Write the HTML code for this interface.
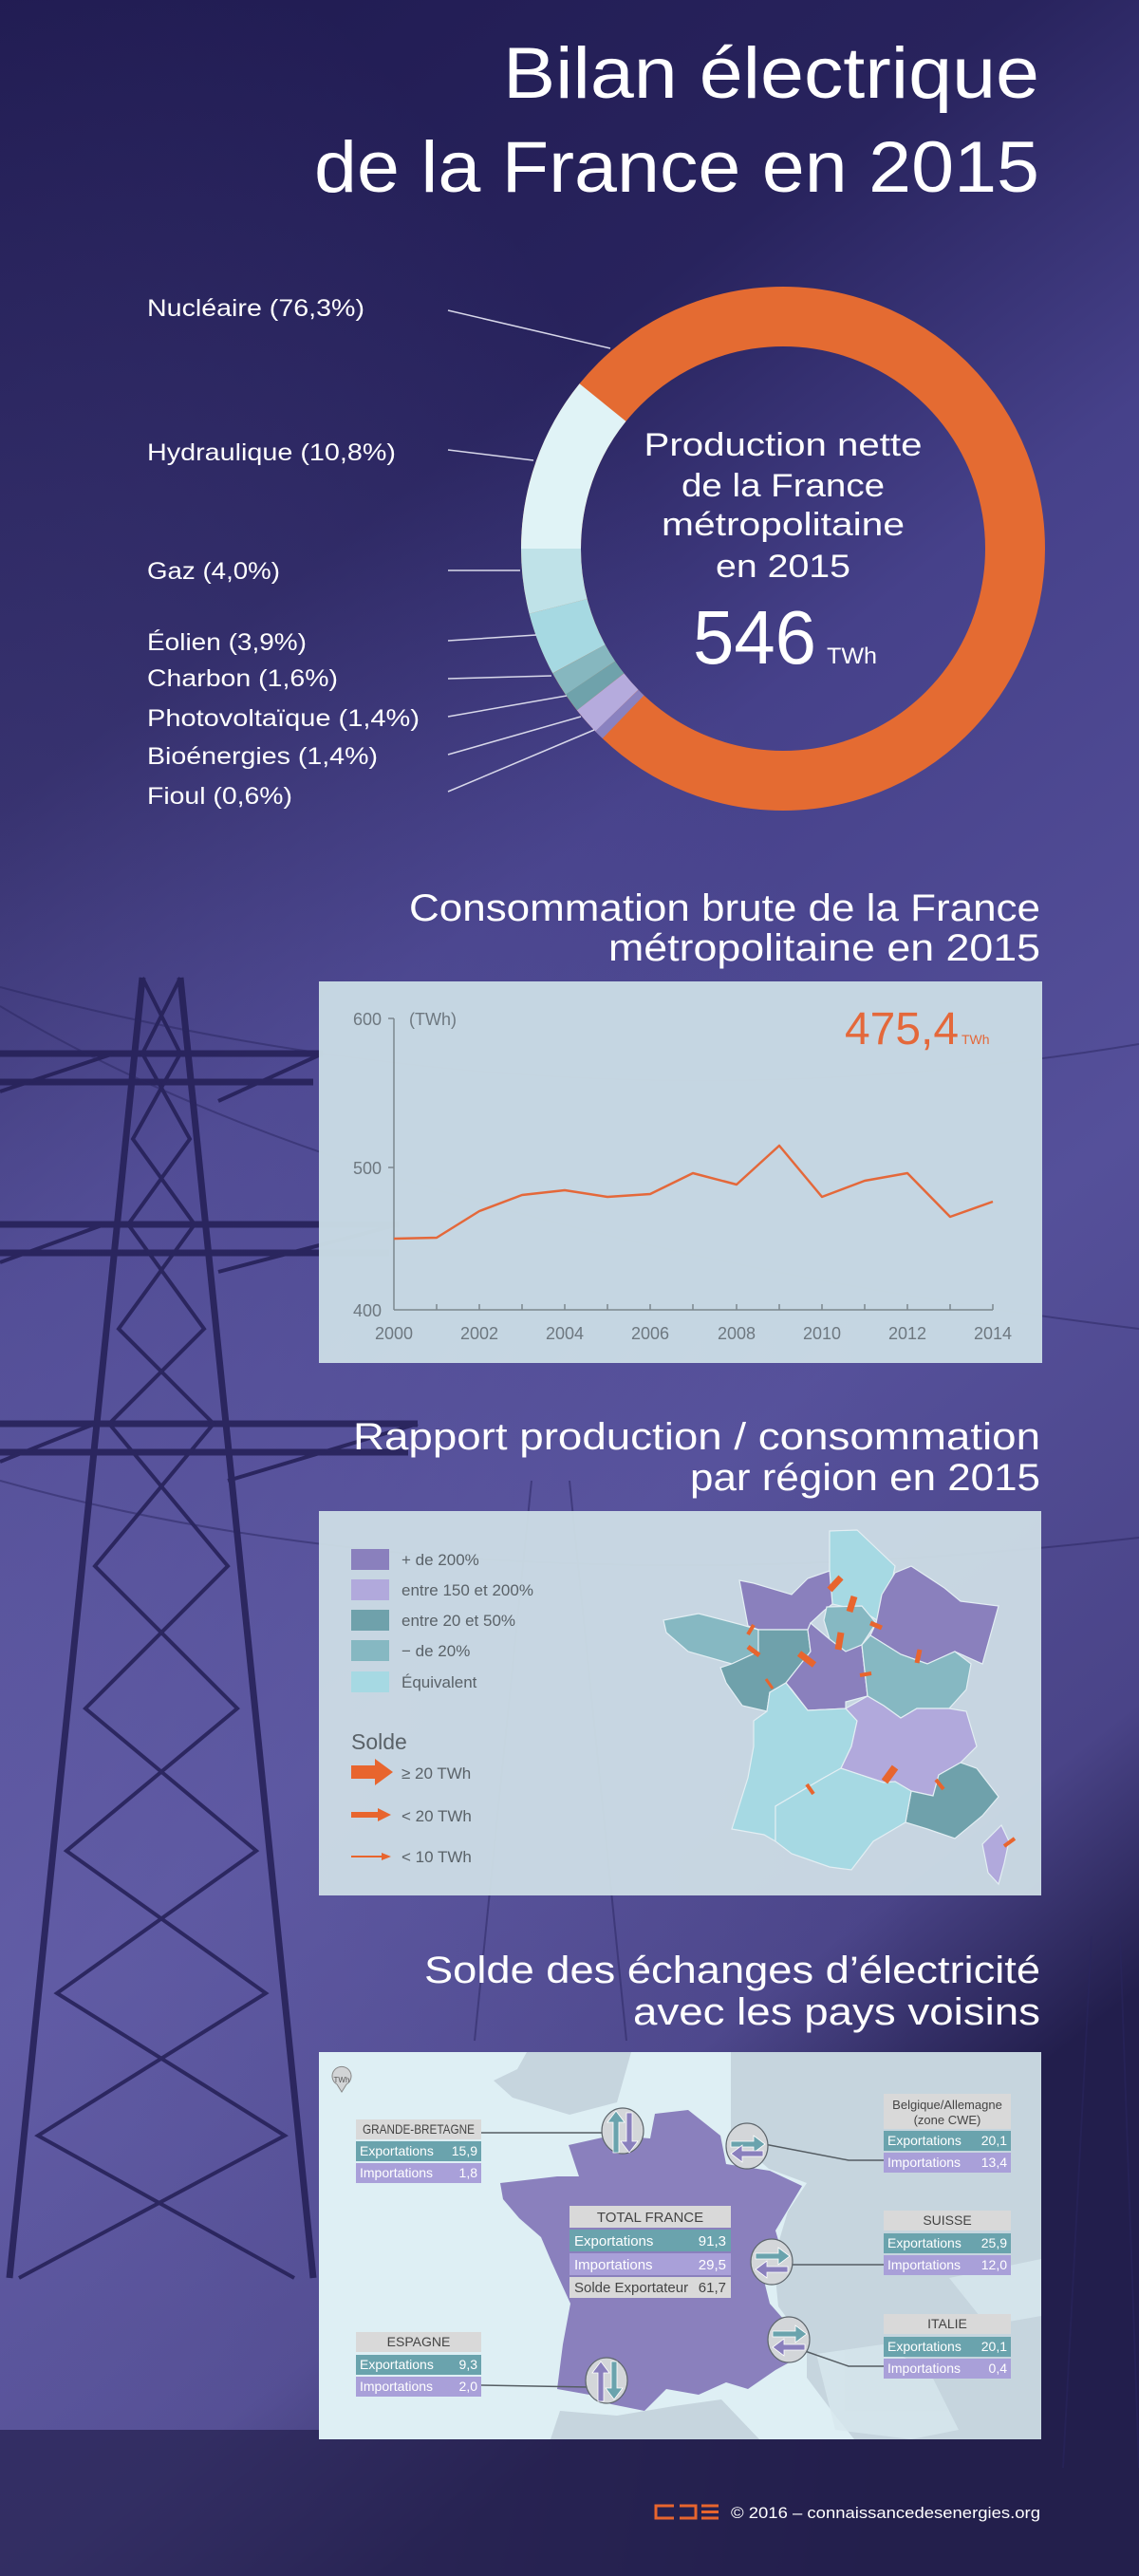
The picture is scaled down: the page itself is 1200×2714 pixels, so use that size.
<!DOCTYPE html>
<html><head><meta charset="utf-8"><style>
html,body{margin:0;padding:0;background:#231e56}
svg{display:block}
text{font-family:"Liberation Sans",sans-serif}
</style></head><body>
<svg width="1200" height="2714" viewBox="0 0 1200 2714" xmlns="http://www.w3.org/2000/svg">
<defs>
<linearGradient id="bg" x1="0" y1="0" x2="0.35" y2="1">
<stop offset="0" stop-color="#1f1a50"/>
<stop offset="0.28" stop-color="#28235d"/>
<stop offset="0.45" stop-color="#46418a"/>
<stop offset="0.7" stop-color="#55509a"/>
<stop offset="0.9" stop-color="#4a4488"/>
<stop offset="1" stop-color="#221e4c"/>
</linearGradient>
<radialGradient id="glow" cx="0" cy="0.75" r="0.8">
<stop offset="0" stop-color="#6d68b0" stop-opacity="0.5"/>
<stop offset="1" stop-color="#6d68b0" stop-opacity="0"/>
</radialGradient>
</defs>
<rect width="1200" height="2714" fill="url(#bg)"/>
<rect width="1200" height="2714" fill="url(#glow)"/>
<rect x="0" y="2560" width="1200" height="154" fill="#231f4d" opacity="0.7"/>

<g stroke="#241f55" stroke-width="7" fill="none" opacity="0.85">
<path d="M150 1030 L10 2400 M190 1030 L330 2400"/>
<path d="M0 1110 L340 1110 M0 1140 L330 1140 M0 1290 L420 1290 M0 1320 L410 1320 M0 1500 L440 1500 M0 1530 L430 1530"/>
<path d="M150 1030 L190 1110 L140 1200 L205 1290 L125 1400 L225 1500 L100 1650 L250 1800 L70 1950 L280 2100 L40 2250 L310 2400" stroke-width="4"/>
<path d="M190 1030 L150 1110 L200 1200 L135 1290 L215 1400 L115 1500 L240 1650 L90 1800 L270 1950 L60 2100 L300 2250 L20 2400" stroke-width="4"/>
<path d="M0 1150 L120 1110 M340 1110 L230 1160 M0 1330 L110 1290 M420 1290 L230 1340 M0 1540 L100 1500 M440 1500 L240 1560" stroke-width="4"/>
</g>
<g stroke="#2a2560" stroke-width="2" fill="none" opacity="0.5">
<path d="M0 1040 Q600 1200 1200 1100 M0 1560 Q500 1700 1200 1620 M0 1060 Q400 1300 1200 1400"/>
<path d="M560 1560 L500 2150 M600 1560 L660 2150 M1150 2040 L1120 2600 M1180 2040 L1200 2600"/>
</g>

<text x="1095" y="103" font-size="76" fill="#fff" text-anchor="end" textLength="565" lengthAdjust="spacingAndGlyphs">Bilan électrique</text>
<text x="1095" y="202" font-size="76" fill="#fff" text-anchor="end" textLength="764" lengthAdjust="spacingAndGlyphs">de la France en 2015</text>

<g transform="translate(825,578)">
<circle r="244.5" fill="none" stroke="#e46b32" stroke-width="63"/>
</g>
<g transform="translate(825,578)" stroke-width="63" fill="none">
<path stroke="#e0f3f6" d="M -190.0 -153.9 A 244.5 244.5 0 0 0 -244.5 0"/>
<path stroke="#bfe2e8" d="M -244.5 0 A 244.5 244.5 0 0 0 -236.9 60.8"/>
<path stroke="#a6d9e2" d="M -236.9 60.8 A 244.5 244.5 0 0 0 -215.1 116.3"/>
<path stroke="#86b7bf" d="M -215.1 116.3 A 244.5 244.5 0 0 0 -203.0 136.2"/>
<path stroke="#6fa2ab" d="M -203.0 136.2 A 244.5 244.5 0 0 0 -192.3 150.9"/>
<path stroke="#b5abdd" d="M -192.3 150.9 A 244.5 244.5 0 0 0 -175.1 170.6"/>
<path stroke="#8a82c0" d="M -175.1 170.6 A 244.5 244.5 0 0 0 -168.4 177.3"/>
</g>
<text x="825" y="480" font-size="34" fill="#fff" text-anchor="middle" textLength="293" lengthAdjust="spacingAndGlyphs">Production nette</text>
<text x="825" y="523" font-size="34" fill="#fff" text-anchor="middle" textLength="214" lengthAdjust="spacingAndGlyphs">de la France</text>
<text x="825" y="564" font-size="34" fill="#fff" text-anchor="middle" textLength="256" lengthAdjust="spacingAndGlyphs">métropolitaine</text>
<text x="825" y="608" font-size="34" fill="#fff" text-anchor="middle" textLength="142" lengthAdjust="spacingAndGlyphs">en 2015</text>
<text x="730" y="699" font-size="80" fill="#fff" textLength="130" lengthAdjust="spacingAndGlyphs">546</text>
<text x="871" y="699" font-size="24" fill="#fff" textLength="53" lengthAdjust="spacingAndGlyphs">TWh</text>

<g stroke="#d8d8ea" stroke-width="1.5">
<line x1="472" y1="327" x2="643" y2="367"/>
<line x1="472" y1="474" x2="562" y2="485"/>
<line x1="472" y1="601" x2="548" y2="601"/>
<line x1="472" y1="675" x2="565" y2="669"/>
<line x1="472" y1="715" x2="581" y2="712"/>
<line x1="472" y1="755" x2="597" y2="733"/>
<line x1="472" y1="795" x2="612" y2="755"/>
<line x1="472" y1="834" x2="626" y2="769"/>
</g>
<g font-size="25" fill="#fff">
<text x="155" y="333" textLength="229" lengthAdjust="spacingAndGlyphs">Nucléaire (76,3%)</text>
<text x="155" y="485" textLength="262" lengthAdjust="spacingAndGlyphs">Hydraulique (10,8%)</text>
<text x="155" y="610" textLength="140" lengthAdjust="spacingAndGlyphs">Gaz (4,0%)</text>
<text x="155" y="685" textLength="168" lengthAdjust="spacingAndGlyphs">Éolien (3,9%)</text>
<text x="155" y="723" textLength="201" lengthAdjust="spacingAndGlyphs">Charbon (1,6%)</text>
<text x="155" y="765" textLength="287" lengthAdjust="spacingAndGlyphs">Photovoltaïque (1,4%)</text>
<text x="155" y="805" textLength="243" lengthAdjust="spacingAndGlyphs">Bioénergies (1,4%)</text>
<text x="155" y="847" textLength="153" lengthAdjust="spacingAndGlyphs">Fioul (0,6%)</text>
</g>

<text x="1096" y="970" font-size="40" fill="#fff" text-anchor="end" textLength="665" lengthAdjust="spacingAndGlyphs">Consommation brute de la France</text>
<text x="1096" y="1012" font-size="40" fill="#fff" text-anchor="end" textLength="455" lengthAdjust="spacingAndGlyphs">métropolitaine en 2015</text>
<rect x="336" y="1034" width="762" height="402" fill="#c9dbe4" opacity="0.97"/>
<g stroke="#7c878e" stroke-width="1.5" fill="none">
<line x1="415" y1="1073" x2="415" y2="1380"/>
<line x1="415" y1="1380" x2="1046" y2="1380"/>
<line x1="409" y1="1073" x2="415" y2="1073"/>
<line x1="409" y1="1230" x2="415" y2="1230"/>
<path d="M460 1380v-6M505 1380v-6M550 1380v-6M595 1380v-6M640 1380v-6M685 1380v-6M730 1380v-6M776 1380v-6M821 1380v-6M866 1380v-6M911 1380v-6M956 1380v-6M1001 1380v-6M1046 1380v-6"/>
</g>
<g font-size="18" fill="#6e7880">
<text x="402" y="1080" text-anchor="end">600</text>
<text x="402" y="1237" text-anchor="end">500</text>
<text x="402" y="1387" text-anchor="end">400</text>
<text x="431" y="1080">(TWh)</text>
<g text-anchor="middle">
<text x="415" y="1411">2000</text><text x="505" y="1411">2002</text><text x="595" y="1411">2004</text><text x="685" y="1411">2006</text><text x="776" y="1411">2008</text><text x="866" y="1411">2010</text><text x="956" y="1411">2012</text><text x="1046" y="1411">2014</text>
</g>
</g>
<polyline fill="none" stroke="#e4683a" stroke-width="2.5" stroke-linejoin="round" points="415,1305 460,1304 505,1276 550,1259 595,1254 640,1261 685,1258 730,1236 776,1248 821,1207 866,1261 911,1244 956,1236 1001,1282 1046,1266"/>
<text x="890" y="1100" font-size="48" fill="#e4683a" textLength="120" lengthAdjust="spacingAndGlyphs">475,4</text>
<text x="1013" y="1100" font-size="14" fill="#e4683a">TWh</text>

<text x="1096" y="1527" font-size="40" fill="#fff" text-anchor="end" textLength="724" lengthAdjust="spacingAndGlyphs">Rapport production / consommation</text>
<text x="1096" y="1570" font-size="40" fill="#fff" text-anchor="end" textLength="369" lengthAdjust="spacingAndGlyphs">par région en 2015</text>
<rect x="336" y="1592" width="761" height="405" fill="#cddde6" opacity="0.95"/>
<g>
<rect x="370" y="1632" width="40" height="22" fill="#8a80bd"/>
<rect x="370" y="1664" width="40" height="22" fill="#b1a9dc"/>
<rect x="370" y="1696" width="40" height="22" fill="#6fa1ab"/>
<rect x="370" y="1728" width="40" height="22" fill="#86b8c2"/>
<rect x="370" y="1761" width="40" height="22" fill="#a6d9e3"/>
</g>
<g font-size="17" fill="#5a6268">
<text x="423" y="1649">+ de 200%</text>
<text x="423" y="1681">entre 150 et 200%</text>
<text x="423" y="1713">entre 20 et 50%</text>
<text x="423" y="1745">− de 20%</text>
<text x="423" y="1778">Équivalent</text>
<text x="370" y="1843" font-size="23">Solde</text>
<text x="423" y="1874">≥ 20 TWh</text>
<text x="423" y="1919">&lt; 20 TWh</text>
<text x="423" y="1962">&lt; 10 TWh</text>
</g>
<g fill="#e8652e">
<polygon points="370,1860 395,1860 395,1853 414,1867 395,1881 395,1874 370,1874"/>
<polygon points="370,1909 398,1909 398,1905 412,1912 398,1919 398,1915 370,1915"/>
<polygon points="370,1955 402,1955 402,1952 412,1956 402,1960 402,1957 370,1957"/>
</g>
<g stroke="#e3eef3" stroke-width="1.2">
<polygon fill="#a6d9e3" points="874,1613 903,1612 943,1650 937,1680 929,1710 908,1697 877,1690 874,1657"/>
<polygon fill="#8a80bd" points="779,1665 794,1668 834,1680 851,1663 874,1655 877,1690 868,1697 854,1710 851,1717 799,1717 788,1713"/>
<polygon fill="#86b8c2" points="871,1693 908,1692 923,1710 908,1733 891,1740 874,1727 868,1707"/>
<polygon fill="#8a80bd" points="929,1680 943,1657 960,1650 995,1673 1012,1687 1052,1692 1035,1753 1006,1740 977,1753 949,1743 917,1723 923,1710"/>
<polygon fill="#86b8c2" points="699,1707 736,1700 782,1712 799,1717 799,1740 771,1753 725,1740 702,1720"/>
<polygon fill="#6fa1ab" points="799,1717 851,1717 854,1740 828,1773 811,1783 808,1803 782,1797 765,1773 759,1757 771,1753 799,1740"/>
<polygon fill="#8a80bd" points="851,1717 854,1710 874,1727 891,1740 908,1733 914,1787 891,1793 891,1800 851,1802 834,1780 828,1773 854,1740"/>
<polygon fill="#86b8c2" points="908,1733 917,1723 949,1743 977,1753 1006,1740 1023,1753 1018,1780 1000,1800 966,1800 949,1810 931,1797 914,1787"/>
<polygon fill="#a6d9e3" points="808,1803 811,1783 828,1773 851,1802 891,1800 903,1813 897,1840 886,1863 868,1873 817,1903 817,1940 805,1933 771,1927 788,1873 794,1840 794,1813"/>
<polygon fill="#b1a9dc" points="891,1800 914,1787 931,1797 949,1810 966,1800 1000,1800 1018,1803 1029,1840 1012,1857 989,1870 983,1892 960,1887 943,1877 931,1878 886,1863 897,1840 903,1813"/>
<polygon fill="#6fa1ab" points="1012,1857 1029,1863 1052,1893 1035,1913 1006,1937 977,1927 954,1920 960,1887 983,1892 989,1870"/>
<polygon fill="#a6d9e3" points="868,1873 886,1863 931,1878 943,1877 960,1887 954,1920 920,1940 897,1970 874,1967 834,1953 817,1940 817,1903"/>
<polygon fill="#b1a9dc" points="1055,1923 1063,1940 1058,1963 1052,1985 1041,1973 1035,1943"/>
</g>
<g stroke="#e8652e" stroke-linecap="butt">
<line x1="874" y1="1675" x2="886" y2="1662" stroke-width="7"/>
<line x1="900" y1="1682" x2="895" y2="1698" stroke-width="7"/>
<line x1="917" y1="1710" x2="929" y2="1715" stroke-width="5"/>
<line x1="886" y1="1720" x2="883" y2="1738" stroke-width="7"/>
<line x1="842" y1="1742" x2="858" y2="1754" stroke-width="7"/>
<line x1="788" y1="1735" x2="800" y2="1744" stroke-width="5"/>
<line x1="794" y1="1712" x2="788" y2="1722" stroke-width="4"/>
<line x1="969" y1="1738" x2="966" y2="1752" stroke-width="5"/>
<line x1="906" y1="1765" x2="918" y2="1763" stroke-width="4"/>
<line x1="807" y1="1769" x2="814" y2="1779" stroke-width="3"/>
<line x1="943" y1="1862" x2="932" y2="1877" stroke-width="8"/>
<line x1="986" y1="1875" x2="994" y2="1885" stroke-width="4"/>
<line x1="850" y1="1880" x2="857" y2="1890" stroke-width="4"/>
<line x1="1069" y1="1937" x2="1058" y2="1945" stroke-width="4"/>
</g>

<text x="1096" y="2089" font-size="40" fill="#fff" text-anchor="end" textLength="649" lengthAdjust="spacingAndGlyphs">Solde des échanges d’électricité</text>
<text x="1096" y="2133" font-size="40" fill="#fff" text-anchor="end" textLength="429" lengthAdjust="spacingAndGlyphs">avec les pays voisins</text>
<rect x="336" y="2162" width="761" height="408" fill="#deeff4"/>
<g fill="#c6d5de">
<polygon points="555,2162 665,2162 650,2215 600,2228 540,2210 520,2192 545,2180"/>
<polygon points="770,2162 1097,2162 1097,2570 900,2570 880,2545 850,2505 850,2470 820,2430 815,2380 830,2330 850,2300 810,2285 770,2250"/>
<polygon points="590,2540 650,2545 710,2535 760,2528 800,2570 580,2570"/>
</g>
<g fill="#d7e7ed" opacity="0.8">
<polygon points="860,2480 930,2470 980,2500 1010,2560 960,2570 880,2560"/>
<polygon points="1000,2400 1097,2380 1097,2440 1040,2450"/>
</g>
<polygon fill="#8a80bd" points="690,2227 725,2223 759,2250 765,2280 811,2287 845,2303 817,2350 822,2367 805,2403 811,2427 840,2460 848,2480 817,2497 788,2517 765,2510 736,2523 702,2517 679,2540 644,2533 621,2523 587,2517 593,2470 601,2427 581,2383 570,2357 547,2337 530,2317 527,2300 553,2297 587,2293 610,2293 599,2260 644,2250 685,2253"/>
<path d="M360 2204 L355 2196 A10 10 0 1 1 365 2196 Z" fill="#d2d4d6" stroke="#888" stroke-width="1"/>
<text x="360" y="2194" font-size="8" fill="#555" text-anchor="middle">TWh</text>
<g stroke="#555d63" stroke-width="1.5" fill="none">
<path d="M507 2247 L640 2247"/>
<path d="M800 2258 L894 2276 L931 2276"/>
<path d="M830 2386 L931 2386"/>
<path d="M848 2477 L894 2493 L931 2493"/>
<path d="M507 2513 L620 2515"/>
</g>
<g stroke="#5e666c" stroke-width="1.2">
<ellipse cx="656" cy="2245" rx="22" ry="24" fill="#d3d6d9"/>
<ellipse cx="787" cy="2261" rx="22" ry="24" fill="#d3d6d9"/>
<ellipse cx="813" cy="2383" rx="22" ry="24" fill="#d3d6d9"/>
<ellipse cx="831" cy="2465" rx="22" ry="24" fill="#d3d6d9"/>
<ellipse cx="639" cy="2508" rx="22" ry="24" fill="#d3d6d9"/>
</g>
<g stroke="#fff" stroke-width="0.8">
<polygon fill="#6aa3ad" points="646,2268 652,2268 652,2236 658,2236 649,2224 640,2236 646,2236"/>
<polygon fill="#8a80bd" points="660,2226 666,2226 666,2256 672,2256 663,2268 654,2256 660,2256"/>
<polygon fill="#6aa3ad" points="770,2262 770,2256 794,2256 794,2250 806,2259 794,2268 794,2262"/>
<polygon fill="#8a80bd" points="804,2266 804,2272 782,2272 782,2278 770,2269 782,2260 782,2266"/>
<polygon fill="#6aa3ad" points="796,2380 796,2374 820,2374 820,2368 832,2377 820,2386 820,2380"/>
<polygon fill="#8a80bd" points="830,2388 830,2394 808,2394 808,2400 796,2391 808,2382 808,2388"/>
<polygon fill="#6aa3ad" points="814,2462 814,2456 838,2456 838,2450 850,2459 838,2468 838,2462"/>
<polygon fill="#8a80bd" points="848,2470 848,2476 826,2476 826,2482 814,2473 826,2464 826,2470"/>
<polygon fill="#8a80bd" points="630,2530 636,2530 636,2500 642,2500 633,2488 624,2500 630,2500"/>
<polygon fill="#6aa3ad" points="644,2488 650,2488 650,2516 656,2516 647,2528 638,2516 644,2516"/>
</g>
<g font-size="14">
<rect x="375" y="2233" width="132" height="21" fill="#d9d9d9"/>
<text x="441" y="2248" fill="#444" text-anchor="middle" textLength="118" lengthAdjust="spacingAndGlyphs">GRANDE-BRETAGNE</text>
<rect x="375" y="2256" width="132" height="21" fill="#6aa3ad"/>
<text x="379" y="2271" fill="#fff">Exportations</text><text x="503" y="2271" fill="#fff" text-anchor="end">15,9</text>
<rect x="375" y="2279" width="132" height="21" fill="#a9a0d9"/>
<text x="379" y="2294" fill="#fff">Importations</text><text x="503" y="2294" fill="#fff" text-anchor="end">1,8</text>

<rect x="931" y="2206" width="134" height="37" fill="#d9d9d9"/>
<text x="998" y="2222" fill="#444" text-anchor="middle" font-size="13">Belgique/Allemagne</text>
<text x="998" y="2238" fill="#444" text-anchor="middle" font-size="13">(zone CWE)</text>
<rect x="931" y="2245" width="134" height="21" fill="#6aa3ad"/>
<text x="935" y="2260" fill="#fff">Exportations</text><text x="1061" y="2260" fill="#fff" text-anchor="end">20,1</text>
<rect x="931" y="2268" width="134" height="21" fill="#a9a0d9"/>
<text x="935" y="2283" fill="#fff">Importations</text><text x="1061" y="2283" fill="#fff" text-anchor="end">13,4</text>

<rect x="600" y="2324" width="170" height="23" fill="#d9d9d9"/>
<text x="685" y="2341" fill="#444" text-anchor="middle" font-size="15">TOTAL FRANCE</text>
<rect x="600" y="2349" width="170" height="23" fill="#6aa3ad"/>
<text x="605" y="2366" fill="#fff" font-size="15">Exportations</text><text x="765" y="2366" fill="#fff" text-anchor="end" font-size="15">91,3</text>
<rect x="600" y="2374" width="170" height="23" fill="#a9a0d9"/>
<text x="605" y="2391" fill="#fff" font-size="15">Importations</text><text x="765" y="2391" fill="#fff" text-anchor="end" font-size="15">29,5</text>
<rect x="600" y="2399" width="170" height="22" fill="#d9d9d9"/>
<text x="605" y="2415" fill="#444" font-size="15">Solde Exportateur</text><text x="765" y="2415" fill="#444" text-anchor="end" font-size="15">61,7</text>

<rect x="931" y="2329" width="134" height="21" fill="#d9d9d9"/>
<text x="998" y="2344" fill="#444" text-anchor="middle">SUISSE</text>
<rect x="931" y="2353" width="134" height="21" fill="#6aa3ad"/>
<text x="935" y="2368" fill="#fff">Exportations</text><text x="1061" y="2368" fill="#fff" text-anchor="end">25,9</text>
<rect x="931" y="2376" width="134" height="21" fill="#a9a0d9"/>
<text x="935" y="2391" fill="#fff">Importations</text><text x="1061" y="2391" fill="#fff" text-anchor="end">12,0</text>

<rect x="375" y="2457" width="132" height="21" fill="#d9d9d9"/>
<text x="441" y="2472" fill="#444" text-anchor="middle">ESPAGNE</text>
<rect x="375" y="2481" width="132" height="21" fill="#6aa3ad"/>
<text x="379" y="2496" fill="#fff">Exportations</text><text x="503" y="2496" fill="#fff" text-anchor="end">9,3</text>
<rect x="375" y="2504" width="132" height="21" fill="#a9a0d9"/>
<text x="379" y="2519" fill="#fff">Importations</text><text x="503" y="2519" fill="#fff" text-anchor="end">2,0</text>

<rect x="931" y="2438" width="134" height="21" fill="#d9d9d9"/>
<text x="998" y="2453" fill="#444" text-anchor="middle">ITALIE</text>
<rect x="931" y="2462" width="134" height="21" fill="#6aa3ad"/>
<text x="935" y="2477" fill="#fff">Exportations</text><text x="1061" y="2477" fill="#fff" text-anchor="end">20,1</text>
<rect x="931" y="2485" width="134" height="21" fill="#a9a0d9"/>
<text x="935" y="2500" fill="#fff">Importations</text><text x="1061" y="2500" fill="#fff" text-anchor="end">0,4</text>
</g>

<g fill="none" stroke="#e8652e" stroke-width="3">
<path d="M710 2640 H691 V2653 H710"/>
<path d="M716 2640 H733 V2653 H716"/>
</g>
<g stroke="#e8652e" stroke-width="3"><path d="M739 2640 H757 M739 2646.5 H757 M739 2653 H757"/></g>
<text x="1096" y="2653" font-size="17" fill="#fff" text-anchor="end" textLength="326" lengthAdjust="spacingAndGlyphs">© 2016 – connaissancedesenergies.org</text>
</svg>
</body></html>
